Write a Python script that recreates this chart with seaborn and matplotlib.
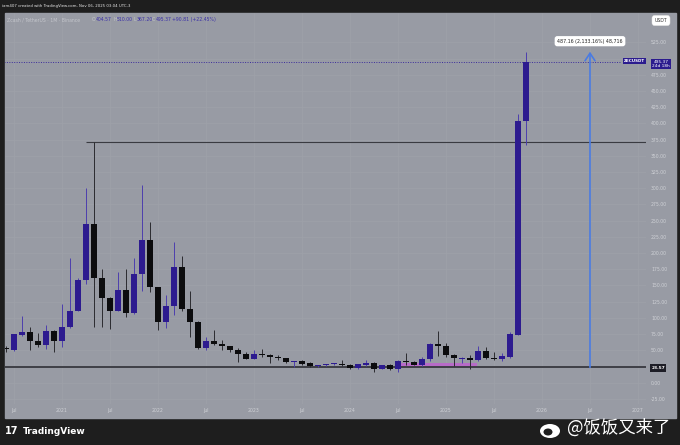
import numpy as np
import pandas as pd
import seaborn as sns
import matplotlib.pyplot as plt
from matplotlib.patches import Rectangle, Ellipse

# monthly ZEC/USDT candles, Jun 2020 .. Nov 2025
months = pd.period_range("2020-06", "2025-11", freq="M")
opens = [52.5, 50.5, 74, 78, 64, 58, 79,
         64, 86, 111, 158, 245, 161, 130, 111, 143, 107, 168, 220,
         147, 94, 118, 178, 114, 93, 54, 65, 60, 56, 51, 44,
         37, 45, 42, 39, 38, 32, 34, 30, 25, 26.8, 28.3, 29.3,
         27.8, 22.2, 26.8, 30.5, 21, 27.8, 20.6, 33.5, 32, 28, 36, 59.7,
         57, 43, 36.6, 38.6, 34.5, 49.4, 37.6, 37.1, 40, 74, 404.57]
highs = [56, 75, 103, 86, 76, 89, 82,
         121, 192, 162, 300, 372, 175, 132, 171, 176, 192, 305, 248,
         148, 135, 217, 196, 142, 95, 70, 82, 66, 57, 54, 47,
         50, 52, 44, 43, 38.5, 34, 35, 32, 28, 29, 31, 35,
         28.5, 29, 35, 31.5, 28, 28.5, 34.5, 45.4, 34, 40, 62, 80,
         62, 43.5, 40, 42, 57, 55.6, 47.8, 46, 78, 414.6, 510]
lows = [48, 49, 72, 50, 55, 52, 47,
        55, 84, 110, 152, 86, 86, 83, 110, 101, 106, 142, 140,
        82, 85, 104, 110, 70, 52, 50, 58, 51, 47, 32, 36,
        36, 40, 30, 35, 31, 23.6, 28, 24, 24, 26, 27.5, 26.5,
        21, 21.5, 26, 17, 20.5, 20, 17, 27, 27, 25, 34, 41,
        40, 25, 31, 21, 33, 36, 35, 34, 38, 73, 367.2]
closes = [52, 74.7, 78, 64, 58, 79, 64,
          86, 111, 158, 245, 161, 130, 111, 143, 107, 168, 220, 147,
          94, 118, 178, 114, 93, 54, 64, 60, 56, 51, 44, 37,
          45, 42, 39, 38, 32, 33, 29, 25, 27, 28.3, 29.8, 27.3,
          22.2, 28.3, 30.9, 20.6, 26.8, 20.6, 33.5, 31.4, 28, 36.6, 59.7, 56.6,
          43, 38, 38.6, 34.5, 49.4, 37.6, 36.6, 41.2, 75, 404.57, 495.37]

tick_labels = ["Jul", "2021", "Jul", "2022", "Jul", "2023", "Jul", "2024",
               "Jul", "2025", "Jul", "2026", "Jul", "2027"]
price_ticks = list(range(-25, 526, 25))
hidden_ticks = [25, 500]   # covered by the price tags on the axis

ath_level = 371.0
base_level = 23.57
last_price = 495.37
target_level = 510.73

W, H = 680, 445
DARK = "#1e1e1e"
PANEL = "#989ba4"
GRID = "#9ea1a9"
LABEL = "#cfd1d6"
UP = "#2d1b8f"
UP_WICK = "#4d3fae"
DOWN = "#0c0c0e"
DOWN_WICK = "#2b2b30"

df = pd.DataFrame({"open": opens, "high": highs, "low": lows, "close": closes})
# month position, Jan 2021 = 0
df["x"] = [(p.year - 2021) * 12 + p.month - 1 for p in months]
df["up"] = df["close"] >= df["open"]

sns.set_theme(style="white", rc={"axes.facecolor": PANEL, "figure.facecolor": DARK})
plt.rcParams['font.family'] = ['DejaVu Sans', 'Noto Sans CJK SC']

fig = plt.figure(figsize=(W / 100, H / 100), dpi=100)
fig.patches.append(Rectangle((5 / W, 1 - 418 / H), 671 / W, 405 / H,
                             transform=fig.transFigure, color=PANEL, zorder=-1))
ax = fig.add_axes([5 / W, 1 - 404 / H, 641 / W, 391 / H])

# candles
wick_col = np.where(df["up"], UP_WICK, DOWN_WICK)
body_col = np.where(df["up"], UP, DOWN)
body_h = np.maximum((df["close"] - df["open"]).abs(), 1.3)
body_b = np.minimum(df["open"], df["close"])
ax.vlines(df["x"], df["low"], df["high"], colors=wick_col, lw=0.7, zorder=3)
ax.bar(df["x"], body_h, bottom=body_b, width=0.72, color=body_col, lw=0, zorder=4)

# drawings
ax.add_patch(Rectangle((42.3, 23.2), 9.6, 6.6, color="#bb66cc", alpha=0.9, lw=0, zorder=2))
ax.axhline(base_level, color="#3e3f46", lw=1.4, zorder=2)
ax.hlines(ath_level, 3, 73, color="#3a3b41", lw=0.8, zorder=2)
ax.hlines(last_price, -7.2, 69.75, color="#3b2c9c", lw=0.7, ls=(0, (1, 1.5)), zorder=2)
ax.annotate("", xy=(66, target_level), xytext=(66, base_level),
            arrowprops=dict(arrowstyle="->,head_length=0.45,head_width=0.3",
                            color="#4a7be2", lw=1.2, shrinkA=0, shrinkB=0), zorder=5)
ax.text(66, 527, "487.16 (2,133.16%) 48,716", ha="center", va="center", fontsize=3.4,
        color="#222222", zorder=6,
        bbox=dict(boxstyle="round,pad=0.55", fc="white", ec="none"))

ax.set_xlim(-7.125, 73)
ax.set_ylim(-32.9, 570.5)
ax.set_xticks(range(-6, 73, 6))
ax.set_xticklabels(tick_labels)
ax.set_yticks(price_ticks)
ax.set_yticklabels(["" if v in hidden_ticks else f"{v:.2f}" for v in price_ticks])
ax.yaxis.tick_right()
ax.tick_params(axis="y", length=0, pad=3.6, labelsize=3.3, labelcolor=LABEL)
ax.tick_params(axis="x", length=0, pad=3.0, labelsize=3.3, labelcolor=LABEL)
ax.grid(True, color=GRID, lw=0.5)
for s in ax.spines.values():
    s.set_visible(False)


def ftext(x, y, s, **kw):
    kw.setdefault("va", "center")
    return fig.text(x / W, 1 - y / H, s, **kw)


ftext(2, 6, "iam407 created with TradingView.com, Nov 06, 2025 03:04 UTC-3",
      fontsize=2.8, color="#e6e6e6")
ftext(7, 19.5, "Zcash / TetherUS · 1M · Binance", fontsize=3.3, color="#c4c6cc")
for xp, lab, val in [(92, "O", "404.57"), (113, "H", "510.00"), (133, "L", "367.20"), (152, "C", "495.37")]:
    ftext(xp, 19.5, lab, fontsize=3.3, color="#c4c6cc")
    ftext(xp + 3.5, 19.5, val, fontsize=3.3, color="#3a2fa8")
ftext(172, 19.5, "+90.81 (+22.45%)", fontsize=3.3, color="#3a2fa8")

ftext(661, 20.5, "USDT", ha="center", fontsize=3.3, color="#333333",
      bbox=dict(boxstyle="round,pad=0.6", fc="white", ec="#cfcfcf", lw=0.3))
ftext(645, 61, "ZECUSDT", ha="right", fontsize=3.0, color="white", fontweight="bold",
      bbox=dict(boxstyle="square,pad=0.3", fc="#2b1b8e", ec="none"))
ftext(661, 64, "495.37\n24d 18h", ha="center", fontsize=3.1, color="white", linespacing=1.1,
      bbox=dict(boxstyle="square,pad=0.3", fc="#2b1b8e", ec="none"))
ftext(658, 368, "23.57", ha="center", fontsize=3.2, color="white", fontweight="bold",
      bbox=dict(boxstyle="square,pad=0.35", fc="#1d1d26", ec="none"))

# footer
ftext(5, 431, "17", fontsize=7, fontweight="heavy", color="white")
ftext(23, 431, "TradingView", fontsize=6.5, fontweight="semibold", color="white")
fig.patches.append(Ellipse((550 / W, 1 - 431 / H), 20 / W, 14 / H, transform=fig.transFigure,
                           fc="white", ec="none", zorder=3))
fig.patches.append(Ellipse((548 / W, 1 - 432 / H), 9 / W, 7 / H, transform=fig.transFigure,
                           fc=DARK, ec="none", zorder=4))
ftext(567, 428, "@饭饭又来了", fontsize=12.5, color="white", family=["Noto Sans CJK SC"])

fig.savefig("out.png", dpi=100, facecolor=DARK)
